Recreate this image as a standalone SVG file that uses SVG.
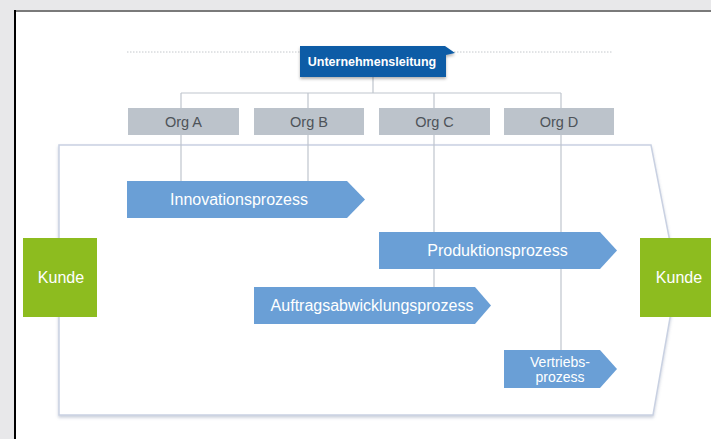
<svg xmlns="http://www.w3.org/2000/svg" width="711" height="439" viewBox="0 0 711 439">
  <defs>
    <filter id="soft" x="-5%" y="-5%" width="110%" height="115%">
      <feDropShadow dx="0" dy="2" stdDeviation="1.5" flood-color="#6a7a9a" flood-opacity="0.35"/>
    </filter>
    <filter id="lift" x="-10%" y="-20%" width="120%" height="160%">
      <feDropShadow dx="0" dy="2" stdDeviation="1.5" flood-color="#000" flood-opacity="0.3"/>
    </filter>
  </defs>
  <style>
    text { font-family: "Liberation Sans", Arial, sans-serif; text-anchor: middle; }
    .org rect { fill: #bcc3cb; }
    .org text { font-size: 14.5px; fill: #4e5359; }
    .proc polygon { fill: #6a9fd6; }
    .proc text { font-size: 16px; fill: #ffffff; }
    .proc text.two { font-size: 14px; }
    .kunde rect { fill: #8dbc1f; }
    .kunde text { font-size: 16px; fill: #ffffff; }
    .link { stroke: #bfc5cd; stroke-width: 1.2; fill: none; }
  </style>

  <!-- page background and sheet -->
  <rect x="0" y="0" width="711" height="439" fill="#e8e8ea"/>
  <rect x="15" y="11" width="696" height="428" fill="#ffffff"/>
  <line x1="14" y1="11" x2="711" y2="11" stroke="#7a7a7a" stroke-width="2"/>
  <line x1="15" y1="10" x2="15" y2="439" stroke="#000000" stroke-width="2"/>

  <!-- management level guide -->
  <line x1="127" y1="52" x2="613" y2="52" stroke="#c4c8cc" stroke-width="1" stroke-dasharray="1.5 1.5"/>

  <!-- value chain frame -->
  <polygon id="frame" points="59,145 651,145 677,278 653,415 59,415" fill="#ffffff" stroke="#c9d1e2" stroke-width="1.5" filter="url(#soft)"/>

  <!-- connectors -->
  <g id="connectors" class="link">
    <line x1="373" y1="77" x2="373" y2="93"/>
    <line x1="181" y1="93" x2="561" y2="93"/>
    <line x1="181" y1="93" x2="181" y2="108"/>
    <line x1="308" y1="93" x2="308" y2="108"/>
    <line x1="434" y1="93" x2="434" y2="108"/>
    <line x1="561" y1="93" x2="561" y2="108"/>
    <line x1="181" y1="135" x2="181" y2="181"/>
    <line x1="308" y1="135" x2="308" y2="181"/>
    <line x1="434" y1="135" x2="434" y2="287"/>
    <line x1="561" y1="135" x2="561" y2="350"/>
  </g>

  <g id="unternehmensleitung">
    <polygon points="300,46 445,46 455,53 446,55 446,77 300,77" fill="#0b5ba6" filter="url(#lift)"/>
    <text x="372" y="66" font-size="12.5" font-weight="bold" fill="#ffffff">Unternehmensleitung</text>
  </g>

  <g id="org-a" class="org">
    <rect x="128" y="108" width="111" height="27"/>
    <text x="183.5" y="127">Org A</text>
  </g>
  <g id="org-b" class="org">
    <rect x="254" y="108" width="110" height="27"/>
    <text x="309" y="127">Org B</text>
  </g>
  <g id="org-c" class="org">
    <rect x="379" y="108" width="111" height="27"/>
    <text x="434.5" y="127">Org C</text>
  </g>
  <g id="org-d" class="org">
    <rect x="504" y="108" width="110" height="27"/>
    <text x="559" y="127">Org D</text>
  </g>

  <g id="innovationsprozess" class="proc">
    <polygon points="127,181 347,181 365,199.5 347,218 127,218"/>
    <text x="239" y="205">Innovationsprozess</text>
  </g>
  <g id="produktionsprozess" class="proc">
    <polygon points="379,232 600,232 617,250.5 600,269 379,269"/>
    <text x="497.5" y="256">Produktionsprozess</text>
  </g>
  <g id="auftragsabwicklungsprozess" class="proc">
    <polygon points="254,287 475,287 491,305.5 475,324 254,324"/>
    <text x="372" y="311">Auftragsabwicklungsprozess</text>
  </g>
  <g id="vertriebsprozess" class="proc">
    <polygon points="504,350 600,350 617,369 600,388 504,388"/>
    <text class="two" x="560" y="366.5"><tspan x="560">Vertriebs-</tspan><tspan x="560" dy="15.5">prozess</tspan></text>
  </g>

  <g id="kunde-links" class="kunde">
    <rect x="23" y="238" width="74" height="79"/>
    <text x="61" y="283">Kunde</text>
  </g>
  <g id="kunde-rechts" class="kunde">
    <rect x="640" y="238" width="72" height="79"/>
    <text x="679" y="283">Kunde</text>
  </g>
</svg>
